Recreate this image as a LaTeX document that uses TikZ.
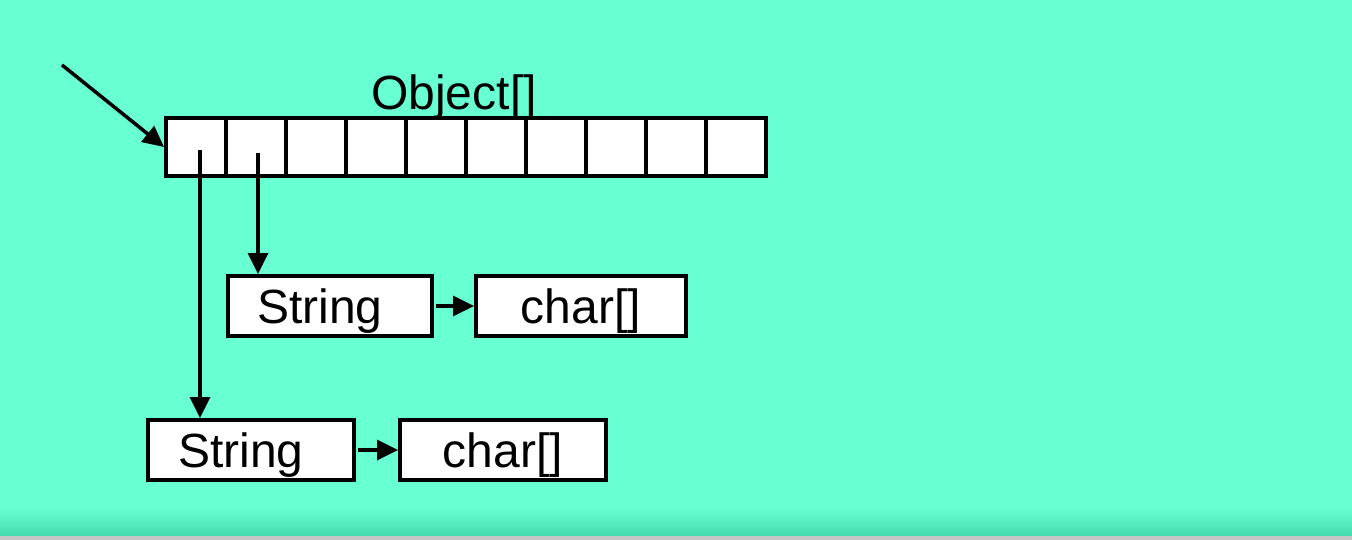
\documentclass[tikz,border=0pt]{standalone}
\usepackage{fontspec}
\setmainfont{Liberation Sans}
\usetikzlibrary{arrows.meta}
\definecolor{mint}{RGB}{104,255,210}
\definecolor{mintdark}{RGB}{68,218,172}
\tikzset{
  cell/.style={draw, line width=4pt, fill=white, minimum width=60pt, minimum height=58pt, inner sep=0pt},
  objbox/.style={draw, line width=4pt, fill=white, minimum height=60pt, inner sep=0pt,
    font=\fontsize{48}{52}\selectfont, text height=34.4pt, text depth=0pt},
  ptr/.style={line width=3.5pt, -{Triangle[length=21pt,width=20pt]}},
}
\begin{document}
\begin{tikzpicture}[x=1pt,y=-1pt]
  % background with soft shadow at the bottom edge
  \fill[mint] (0,0) rectangle (1352,540);
  \shade[top color=mint, bottom color=mintdark] (0,508) rectangle (1352,536);
  \fill[gray!45] (0,536) rectangle (1352,540);
  \useasboundingbox (0,0) rectangle (1352,540);

  % the Object[] array: ten cells
  \foreach \i in {1,...,10} {
    \node[cell] (c\i) at ({196+60*(\i-1)},147) {};
  }
  \node[anchor=base, font=\fontsize{48}{52}\selectfont, inner sep=0pt] (lbl) at (454,110) {Object[]};

  % String objects and their char arrays
  \node[objbox, minimum width=204pt] (s1) at (330,306) {String\hspace*{20pt}};
  \node[objbox, minimum width=210pt] (a1) at (581,306) {char[]};
  \node[objbox, minimum width=206pt] (s2) at (251,450) {String\hspace*{20pt}};
  \node[objbox, minimum width=206pt] (a2) at (503,450) {char[]};

  % incoming reference to the array
  \coordinate (ref) at (62,65);
  \draw[ptr] (ref) -- (c1.west);

  % element references
  \draw[ptr] ([xshift=4pt,yshift=-3pt]c1.center) -- ([xshift=4pt]c1.center |- s2.north);
  \draw[ptr] ([xshift=2pt,yshift=-6pt]c2.center) -- ([xshift=2pt]c2.center |- s1.north);

  % String -> char[]
  \draw[ptr] ([xshift=2pt]s1.east) -- (a1.west);
  \draw[ptr] ([xshift=2pt]s2.east) -- (a2.west);
\end{tikzpicture}
\end{document}
